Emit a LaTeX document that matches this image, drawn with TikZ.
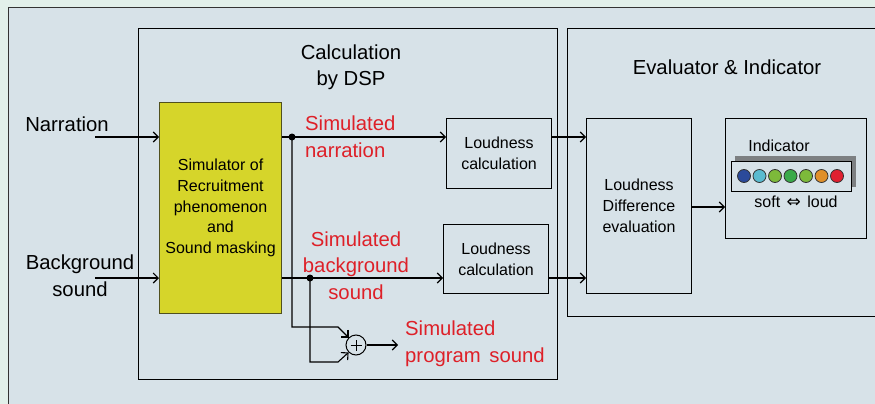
\documentclass[tikz,border=0pt]{standalone}
\usepackage{fontspec}
\setmainfont{Liberation Sans}
\newfontfamily\dejavu{DejaVu Sans}
\usetikzlibrary{arrows.meta}
\definecolor{mint}{RGB}{226,240,234}
\definecolor{panel}{RGB}{215,226,232}
\definecolor{ybox}{RGB}{214,213,42}
\definecolor{yedge}{RGB}{80,80,30}
\definecolor{redtxt}{RGB}{222,32,40}
\definecolor{shadowgray}{RGB}{125,128,130}
\definecolor{cblue}{RGB}{43,74,154}
\definecolor{ccyan}{RGB}{90,187,208}
\definecolor{clgreen}{RGB}{125,186,58}
\definecolor{cgreen}{RGB}{58,170,74}
\definecolor{corange}{RGB}{224,144,42}
\definecolor{cred}{RGB}{224,32,48}
\begin{document}
\begin{tikzpicture}[x=1pt,y=-1pt,
  big/.style={font=\fontsize{20.3}{26.5}\selectfont, inner sep=0pt},
  small/.style={font=\fontsize{16}{20.8}\selectfont, inner sep=0pt},
  redlbl/.style={big, text=redtxt},
  blk/.style={draw, line width=1.1pt, small, align=center, inner sep=0pt},
  frame/.style={draw, line width=0.9pt},
  wire/.style={line width=1.1pt},
  arr/.style={wire, -{Straight Barb[length=5pt,width=10pt]}},
  joint/.style={circle, fill=black, inner sep=0pt, minimum size=7pt},
  led/.style={circle, draw=black!80, line width=0.8pt, inner sep=0pt, minimum size=13pt}
]
\clip (0,0) rectangle (875,404);
\useasboundingbox (0,0) rectangle (875,404);
\fill[mint] (0,0) rectangle (875,404);
\draw[fill=panel, line width=0.9pt, draw=black!80] (8.5,7.5) rectangle (890,420);

% group frames
\draw[frame] (138,28) rectangle (557,379);
\draw[frame] (567,28) rectangle (890,316);
\node[big, align=center] (dsptitle) at (351,67.5) {Calculation\\by DSP};
\node[big] (evaltitle) at (727,67) {Evaluator \& Indicator};

% main blocks
\node[blk, fill=ybox, draw=yedge, anchor=north west, minimum width=122pt, minimum height=211pt] (sim) at (159,102)
  {Simulator of\\Recruitment\\phenomenon\\and\\Sound masking};
\node[blk, anchor=north west, minimum width=105pt, minimum height=70pt] (loud1) at (446,118) {Loudness\\calculation};
\node[blk, anchor=north west, minimum width=105pt, minimum height=69pt] (loud2) at (443,224) {Loudness\\calculation};
\node[blk, anchor=north west, minimum width=105pt, minimum height=175pt] (diff) at (586,118) {Loudness\\Difference\\evaluation};
\node[blk, anchor=north west, minimum width=141pt, minimum height=120pt] (ind) at (725,118) {};
\node[small] (indtitle) at (779,146) {Indicator};
\fill[shadowgray] (735,156) rectangle (856,187);
\node[draw, line width=1pt, fill=panel, anchor=north west, minimum width=120pt, minimum height=30pt, inner sep=0pt] (ledbar) at (731,161) {};
\node[led, fill=cblue] (l1) at (744,176) {};
\node[led, fill=ccyan] (l2) at (759.5,176) {};
\node[led, fill=clgreen] (l3) at (775,176) {};
\node[led, fill=cgreen] (l4) at (790.5,176) {};
\node[led, fill=clgreen] (l5) at (806,176) {};
\node[led, fill=corange] (l6) at (821.5,176) {};
\node[led, fill=cred] (l7) at (837,176) {};
\node[small] (softloud) at (796,202) {soft\hspace{2pt} {\dejavu\fontsize{17}{18}\selectfont ⇔}\hspace{2pt} loud};

% inputs
\node[big] (narr) at (67,124) {Narration};
\node[big, align=center] (bg) at (80,275.5) {Background\\sound};
\coordinate (nin) at (95,137);
\coordinate (bin) at (95,278);
\draw[arr] (nin) -- (nin -| sim.west);
\draw[arr] (bin) -- (bin -| sim.west);

% outputs of simulator
\node[joint] (dot1) at (292,137) {};
\node[joint] (dot2) at (310,278) {};
\draw[wire] (sim.east |- dot1) -- (dot1.center);
\draw[wire] (sim.east |- dot2) -- (dot2.center);
\draw[arr] (dot1.center) -- (dot1 -| loud1.west);
\draw[arr] (dot2.center) -- (dot2 -| loud2.west);
\draw[arr] (loud1.east |- dot1) -- (dot1 -| diff.west);
\draw[arr] (loud2.east |- dot2) -- (dot2 -| diff.west);

% summing junction
\node[draw, circle, line width=1pt, minimum size=20pt, inner sep=0pt] (sum) at (356,345) {};
\draw[line width=0.9pt] ([xshift=-5.5pt]sum.center) -- ([xshift=5.5pt]sum.center)
  ([yshift=-5.5pt]sum.center) -- ([yshift=5.5pt]sum.center);
\coordinate (k1) at (292,327);
\coordinate (k2) at (338,327);
\coordinate (k3) at (310,362);
\coordinate (k4) at (338,362);
\draw[arr] (dot1.center) -- (k1) -- (k2) -- (sum.135);
\draw[arr] (dot2.center) -- (k3) -- (k4) -- (sum.225);
\coordinate (sout) at (398,345);
\draw[arr] (sum.east) -- (sout);

% evaluator to indicator
\coordinate (dout) at (691,207);
\draw[arr] (dout) -- (dout -| ind.west);

% red labels
\node[redlbl, align=left, anchor=west] (snarr) at (305,136.5) {Simulated\\narration};
\node[redlbl, align=center] (sbg) at (356,265.5) {Simulated\\background\\sound};
\node[redlbl, align=left, anchor=west] (sprog) at (405,343.5) {Simulated\\program\hspace{3pt} sound};
\end{tikzpicture}
\end{document}
